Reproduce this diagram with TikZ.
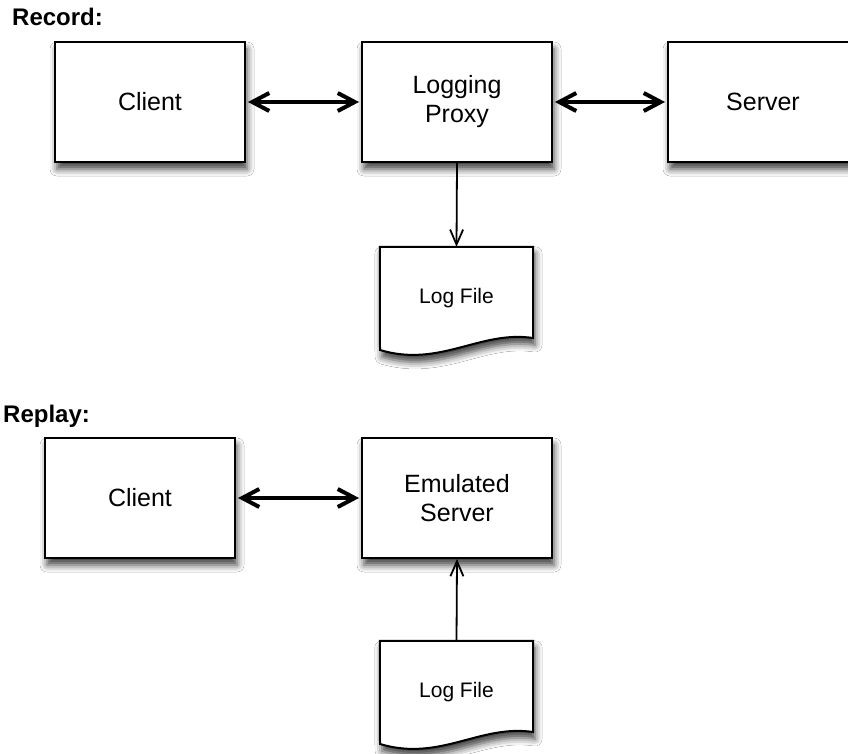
\documentclass[tikz,border=0pt]{standalone}
\usepackage{fontspec}
\setmainfont{Liberation Sans}
\usetikzlibrary{arrows.meta,shadows.blur}
\tikzset{
  softshadow/.style={blur shadow={shadow xshift=2pt, shadow yshift=-7pt, shadow blur radius=7pt, shadow opacity=75}},
  box/.style={draw, line width=2pt, fill=white, minimum width=190pt, minimum height=120pt,
    inner sep=0pt, align=center, font=\fontsize{25}{29}\selectfont, softshadow},
  docnode/.style={minimum width=153pt, minimum height=102pt, inner sep=0pt,
    font=\fontsize{21}{25}\selectfont},
  docshape/.style={draw, line width=2pt, fill=white, softshadow},
  biarrow/.style={line width=4pt, {Straight Barb[length=17pt,width=18pt]}-{Straight Barb[length=17pt,width=18pt]}, shorten <=2pt, shorten >=2pt},
  thinarrow/.style={line width=1.8pt, -{Straight Barb[length=15pt,width=13pt]}},
  heading/.style={anchor=base west, inner sep=0pt, font=\fontsize{24}{28}\selectfont\bfseries}
}
\begin{document}
\begin{tikzpicture}[x=1pt,y=-1pt]
\clip (0,0) rectangle (848,754);
\fill[white] (0,0) rectangle (848,754);

% Record
\node[heading] (rec) at (12,26) {Record:};
\node[box] (client1) at (150,102) {Client};
\node[box] (proxy) at (457,102) {Logging\\Proxy};
\node[box] (server) at (763,102) {Server};
\node[docnode] (log1) at (456.5,298) {};
\path[docshape] (log1.north west) -- (log1.north east) -- (533,338)
  .. controls (480,330) and (440,368) .. (380,350) -- cycle;
\node[docnode] at (log1.center) {Log File};

\draw[biarrow] (client1) -- (proxy);
\draw[biarrow] (proxy) -- (server);
\draw[thinarrow] (proxy.south) -- (log1.north);

% Replay
\node[heading] (rep) at (3,422) {Replay:};
\node[box] (client2) at (140,498) {Client};
\node[box] (emu) at (457,498) {Emulated\\Server};
\node[docnode] (log2) at (456.5,692) {};
\path[docshape] (log2.north west) -- (log2.north east) -- (533,732)
  .. controls (480,724) and (440,762) .. (380,744) -- cycle;
\node[docnode] at (log2.center) {Log File};

\draw[biarrow] (client2) -- (emu);
\draw[thinarrow] (log2.north) -- (emu.south);
\end{tikzpicture}
\end{document}
